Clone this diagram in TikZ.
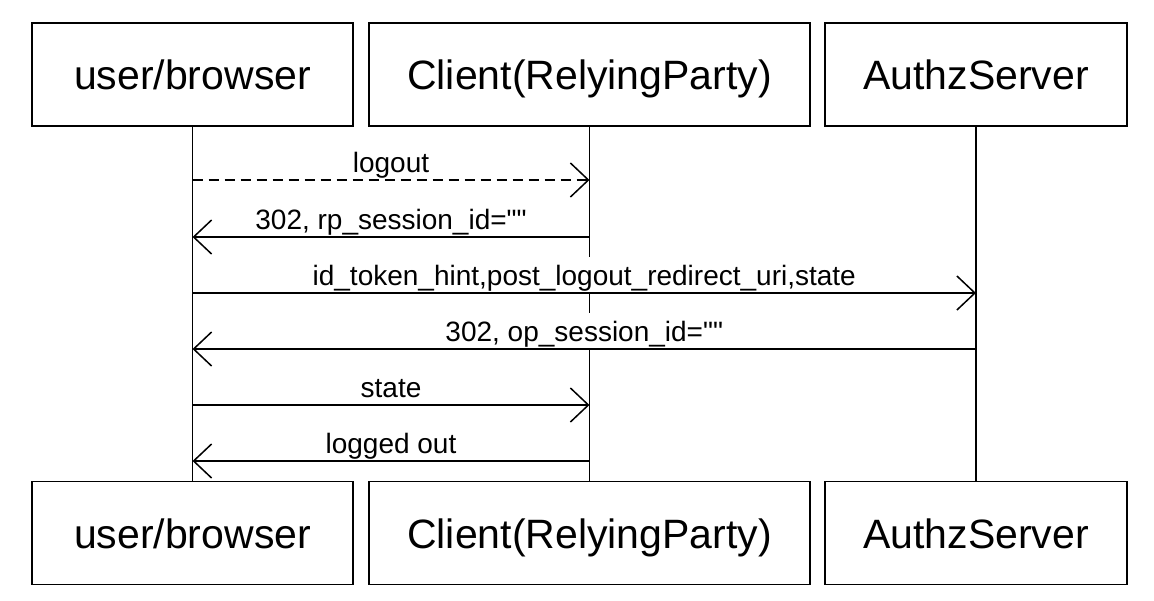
\documentclass[tikz,border=0pt]{standalone}
\usepackage{fontspec}
\setmainfont{Liberation Sans}
\newfontfamily\lblfont{Liberation Sans}[Ligatures=TeXOff]
\usetikzlibrary{arrows.meta}

\begin{document}
\begin{tikzpicture}[x=1pt, y=-1pt,
		actor/.style={draw, line width=1.6pt, minimum height=103pt, inner sep=0pt, text height=30pt, text depth=0pt, font=\fontsize{41}{41}\selectfont},
		life/.style={line width=1.5pt},
		msg/.style={line width=1.5pt, -{Straight Barb[length=18pt, width=34pt]}},
		lbl/.style={fill=white, inner sep=3pt, text height=25pt, text depth=4pt, font=\lblfont\fontsize{28}{28}\selectfont}]
		%%%%% START %%%%%
		
		\useasboundingbox (0, 0) rectangle (1154, 600);
		
		\node[actor, minimum width=321pt] (ub) at (192.5, 74.5) {user/browser};
		\node[actor, minimum width=441pt] (cp) at (589.5, 74.5) {Client(RelyingParty)};
		\node[actor, minimum width=302pt] (as) at (976, 74.5) {AuthzServer};
		
		\node[actor, minimum width=321pt] (ubb) at (192.5, 533) {user/browser};
		\node[actor, minimum width=441pt] (cpb) at (589.5, 533) {Client(RelyingParty)};
		\node[actor, minimum width=302pt] (asb) at (976, 533) {AuthzServer};
		
		\draw[life] (ub.south) -- (ubb.north);
		\draw[life] (cp.south) -- (cpb.north);
		\draw[life] (as.south) -- (asb.north);
		
		\coordinate (m1) at (0, 180);
		\coordinate (m2) at (0, 237);
		\coordinate (m3) at (0, 293);
		\coordinate (m4) at (0, 349);
		\coordinate (m5) at (0, 405);
		\coordinate (m6) at (0, 461);
		
		\draw[msg, dash pattern=on 10pt off 6pt] (ub |- m1) -- (cp |- m1) node[lbl, midway, above=0pt] {logout};
		\draw[msg] (cp |- m2) -- (ub |- m2) node[lbl, midway, above=0pt] {302, rp\_session\_id=""};
		\draw[msg] (ub |- m3) -- (as |- m3) node[lbl, midway, above=0pt] {id\_token\_hint,post\_logout\_redirect\_uri,state};
		\draw[msg] (as |- m4) -- (ub |- m4) node[lbl, midway, above=0pt] {302, op\_session\_id=""};
		\draw[msg] (ub |- m5) -- (cp |- m5) node[lbl, midway, above=0pt] {state};
		\draw[msg] (cp |- m6) -- (ub |- m6) node[lbl, midway, above=0pt] {logged out};
		
		%%%%% END %%%%%
	\end{tikzpicture}
\end{document}
